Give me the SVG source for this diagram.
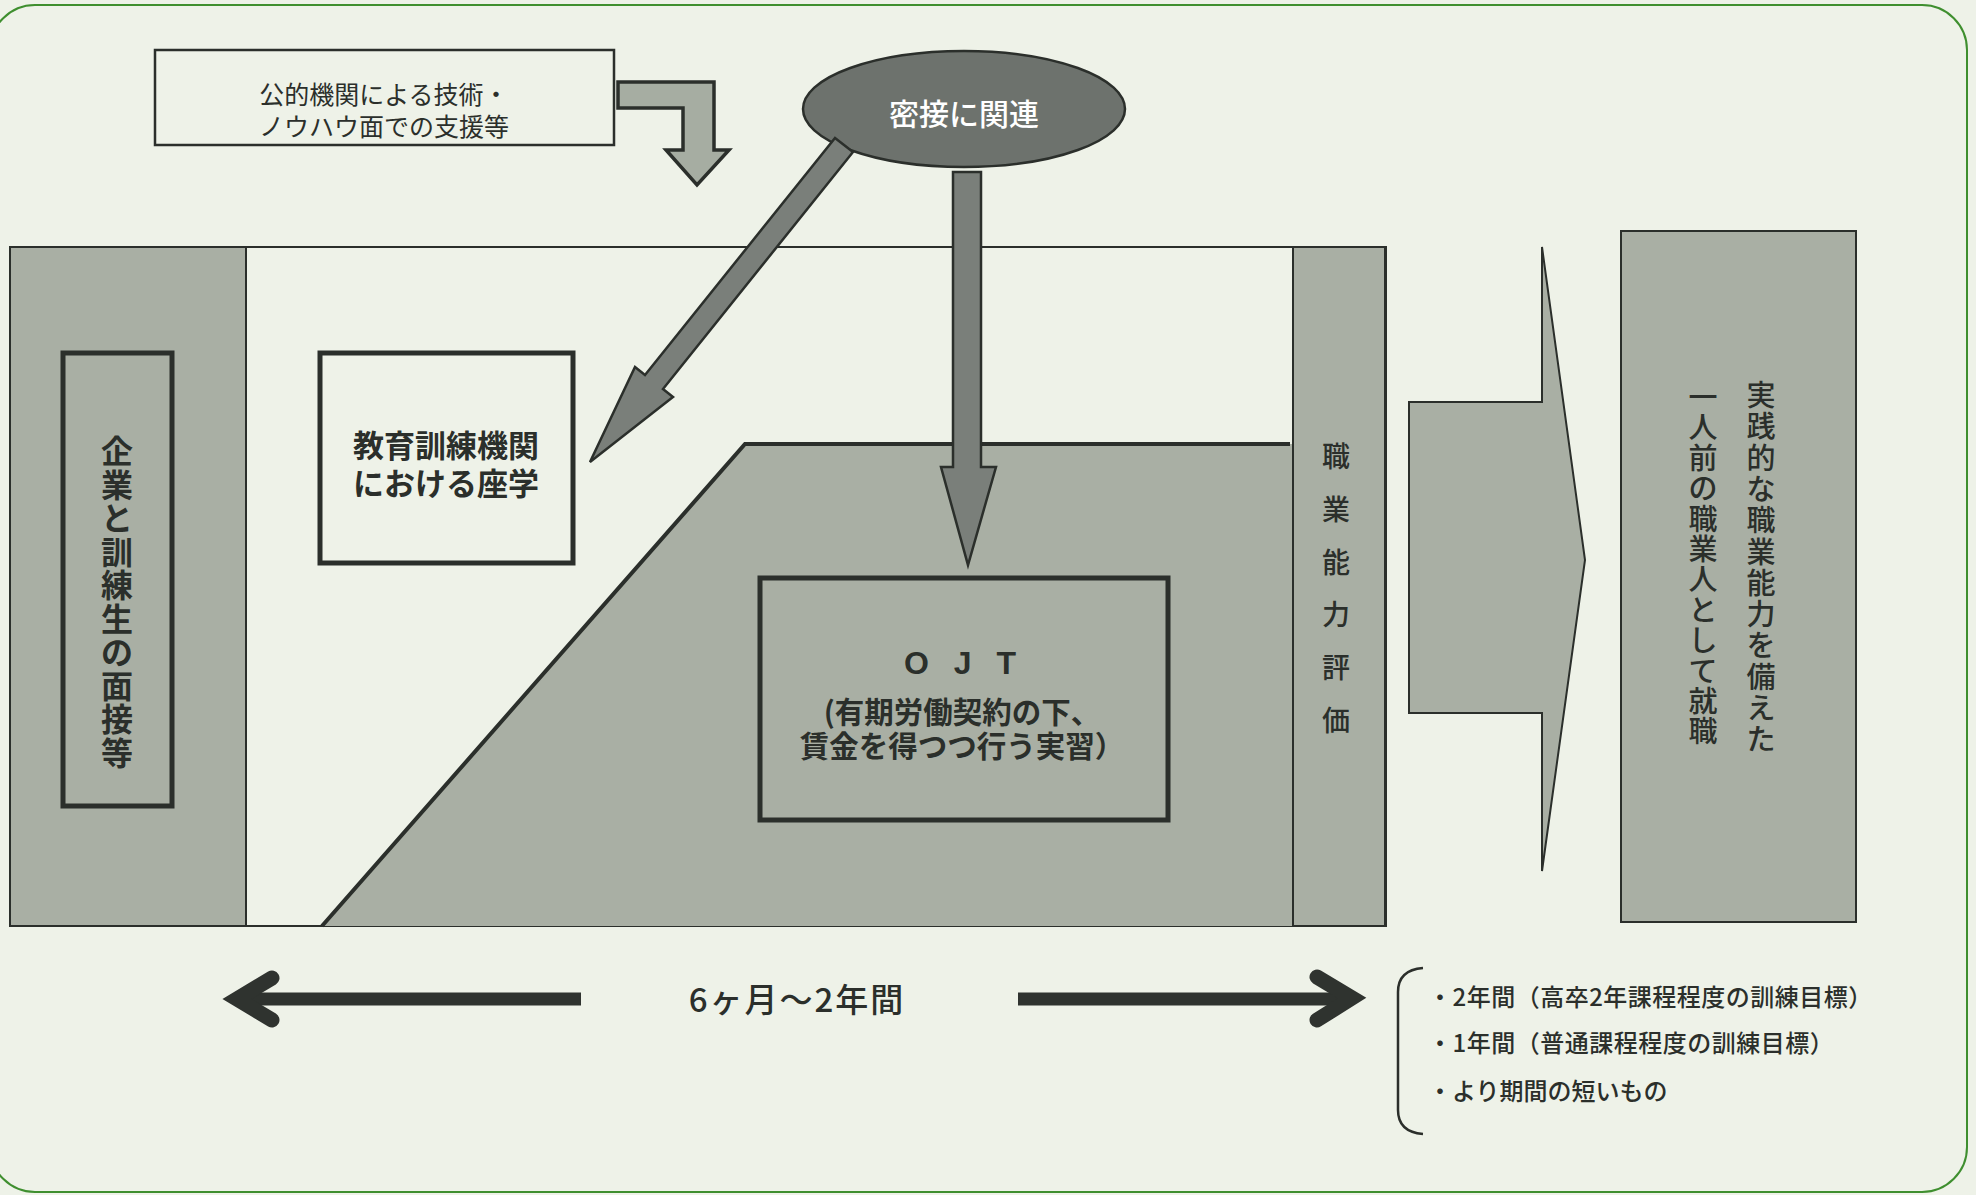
<svg xmlns="http://www.w3.org/2000/svg" width="1976" height="1195" viewBox="0 0 1976 1195">
<defs>
<style>
.jp{font-family:"Noto Sans CJK JP","Noto Sans",sans-serif;fill:#2b2f2b}
.gray{fill:#a9afa4;stroke:#2b2f2b;stroke-width:2}
.box{fill:none;stroke:#2b2f2b;stroke-width:5}
.arr{fill:#7a7f7a;stroke:#2b2f2b;stroke-width:2.5;stroke-linejoin:miter}
.dbl{fill:none;stroke:#2f332f;stroke-linecap:butt}
.head{fill:none;stroke:#2f332f;stroke-width:15;stroke-linecap:round;stroke-linejoin:miter;stroke-miterlimit:6}
</style>
</defs>
<rect width="1976" height="1195" fill="#eef2e8"/>
<rect id="outer-frame" x="-10" y="5" width="1977" height="1187" rx="45" fill="none" stroke="#3f8f2f" stroke-width="2"/>

<g id="main-frame">
<rect x="10" y="247" width="1376" height="679" fill="#eef2e8" stroke="#2b2f2b" stroke-width="2"/>
</g>

<g id="ojt-area">
<polygon points="322,926 745,444 1293,444 1293,926" fill="#a9afa4"/>
<polyline points="322,926 745,444 1290,444" fill="none" stroke="#2b2f2b" stroke-width="4"/>
</g>

<g id="interview">
<rect class="gray" x="10" y="247" width="236" height="679"/>
<rect class="box" x="63" y="353" width="109" height="453"/>
<text class="jp" font-size="32" font-weight="700" text-anchor="middle" dominant-baseline="central">
<tspan x="117" y="449">企</tspan><tspan x="117" y="482.5">業</tspan><tspan x="117" y="516">と</tspan><tspan x="117" y="549.5">訓</tspan><tspan x="117" y="583">練</tspan><tspan x="117" y="616.5">生</tspan><tspan x="117" y="650">の</tspan><tspan x="117" y="683.5">面</tspan><tspan x="117" y="717">接</tspan><tspan x="117" y="750.5">等</tspan>
</text>
</g>

<g id="classroom">
<rect class="box" x="320" y="353" width="253" height="210" fill="#eef2e8"/>
<text class="jp" x="446" y="443" font-size="31" font-weight="700" text-anchor="middle" dominant-baseline="central">教育訓練機関</text>
<text class="jp" x="446" y="481" font-size="31" font-weight="700" text-anchor="middle" dominant-baseline="central">における座学</text>
</g>

<g id="ojt">
<rect class="box" x="760" y="578" width="408" height="242"/>
<text x="964" y="674" font-family="Liberation Sans,Arial,sans-serif" font-size="32" font-weight="700" fill="#2b2f2b" text-anchor="middle" letter-spacing="8">O J T</text>
<text class="jp" x="962" y="710" font-size="29.5" font-weight="700" text-anchor="middle" dominant-baseline="central">(有期労働契約の下、</text>
<text class="jp" x="962" y="744" font-size="29.5" font-weight="700" text-anchor="middle" dominant-baseline="central">賃金を得つつ行う実習）</text>
</g>

<g id="evaluation">
<rect class="gray" x="1293" y="247" width="92" height="679"/>
<text class="jp" font-size="28" font-weight="500" text-anchor="middle" dominant-baseline="central">
<tspan x="1336" y="455">職</tspan><tspan x="1336" y="508">業</tspan><tspan x="1336" y="561">能</tspan><tspan x="1336" y="613">力</tspan><tspan x="1336" y="666">評</tspan><tspan x="1336" y="719">価</tspan>
</text>
</g>

<g id="employment">
<rect class="gray" x="1621" y="231" width="235" height="691" stroke-width="2.5"/>
<text class="jp" font-size="29" font-weight="500" text-anchor="middle" dominant-baseline="central">
<tspan x="1761" y="393">実</tspan><tspan x="1761" y="424.3">践</tspan><tspan x="1761" y="455.6">的</tspan><tspan x="1761" y="486.9">な</tspan><tspan x="1761" y="518.2">職</tspan><tspan x="1761" y="549.5">業</tspan><tspan x="1761" y="580.8">能</tspan><tspan x="1761" y="612.1">力</tspan><tspan x="1761" y="643.4">を</tspan><tspan x="1761" y="674.7">備</tspan><tspan x="1761" y="706">え</tspan><tspan x="1761" y="737.3">た</tspan>
</text>
<text class="jp" font-size="29" font-weight="500" text-anchor="middle" dominant-baseline="central">
<tspan x="1703" y="395">一</tspan><tspan x="1703" y="425.4">人</tspan><tspan x="1703" y="455.8">前</tspan><tspan x="1703" y="486.2">の</tspan><tspan x="1703" y="516.6">職</tspan><tspan x="1703" y="547">業</tspan><tspan x="1703" y="577.4">人</tspan><tspan x="1703" y="607.8">と</tspan><tspan x="1703" y="638.2">し</tspan><tspan x="1703" y="668.6">て</tspan><tspan x="1703" y="699">就</tspan><tspan x="1703" y="729.4">職</tspan>
</text>
</g>

<g id="support">
<rect x="155" y="50" width="459" height="95" fill="none" stroke="#2b2f2b" stroke-width="2.5"/>
<text class="jp" x="384" y="93" font-size="25" text-anchor="middle" dominant-baseline="central">公的機関による技術・</text>
<text class="jp" x="384" y="125" font-size="25" text-anchor="middle" dominant-baseline="central">ノウハウ面での支援等</text>
</g>

<g id="related">
<ellipse cx="964" cy="109" rx="161" ry="58" fill="#6d726d" stroke="#2b2f2b" stroke-width="2.5"/>
<text x="964" y="112" class="jp" font-size="30" font-weight="500" text-anchor="middle" dominant-baseline="central" style="fill:#ffffff">密接に関連</text>
</g>

<g id="duration">
<text x="797" y="998" class="jp" font-size="33" font-weight="500" text-anchor="middle" dominant-baseline="central" letter-spacing="2">6ヶ月～2年間</text>
</g>

<g id="courses">
<path d="M1423,968 Q1398,970 1398,992 L1398,1110 Q1398,1132 1423,1134" fill="none" stroke="#2b2f2b" stroke-width="2.5"/>
<text class="jp" x="1428" y="995" font-size="24" font-weight="500" dominant-baseline="central" letter-spacing="0.5">・2年間（高卒2年課程程度の訓練目標）</text>
<text class="jp" x="1428" y="1041" font-size="24" font-weight="500" dominant-baseline="central" letter-spacing="0.5">・1年間（普通課程程度の訓練目標）</text>
<text class="jp" x="1428" y="1089" font-size="24" font-weight="500" dominant-baseline="central">・より期間の短いもの</text>
</g>

<g id="connectors">
<polygon class="arr" style="fill:#a6ada2;stroke-width:3.5" points="618,82 714,82 714,150 729,150 697,185 666,150 683,150 683,108 618,108"/>
<polygon class="arr" points="835,138 853,152 663,389 673,397 590,462 635,367 645,375"/>
<polygon class="arr" points="953,172 981,172 981,467 996,467 968,565 941,467 953,467"/>
<polygon class="gray" stroke-width="2.5" points="1409,402 1542,402 1542,247 1585,560 1542,871 1542,713 1409,713"/>
<line class="dbl" x1="240" y1="999" x2="581" y2="999" stroke-width="13"/>
<path class="head" d="M272,978 L237,999 L272,1020"/>
<line class="dbl" x1="1018" y1="999" x2="1350" y2="999" stroke-width="13"/>
<path class="head" d="M1317,977 L1352,998 L1317,1020"/>
</g>
</svg>
